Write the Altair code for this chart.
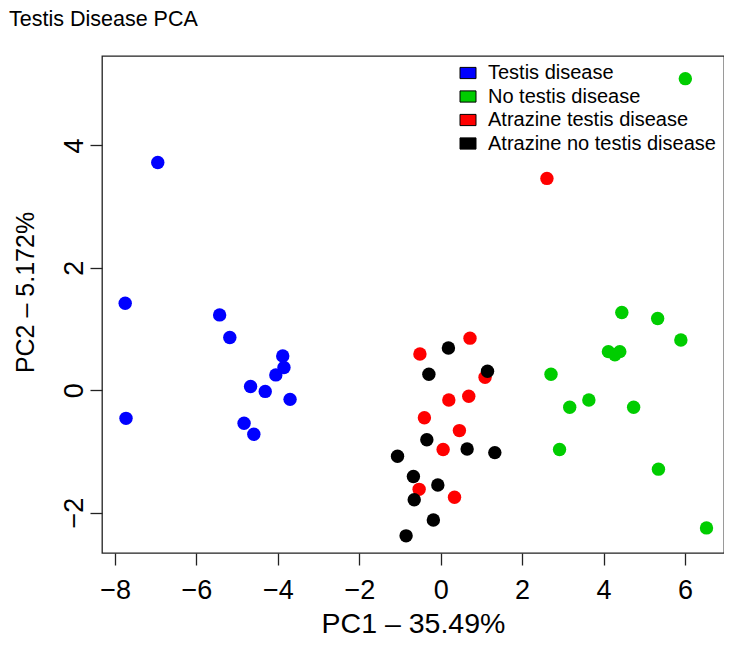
import altair as alt
import pandas as pd

groups = ["Testis disease", "No testis disease", "Atrazine testis disease", "Atrazine no testis disease"]
colors = ["#0000FF", "#00CD00", "#FF0000", "#000000"]

blue_x = [-6.95, -7.75, -5.43, -5.18, -3.88, -3.85, -4.05, -4.67, -4.31, -3.70, -7.73, -4.83, -4.59]
blue_y = [3.72, 1.42, 1.23, 0.86, 0.56, 0.37, 0.25, 0.06, -0.02, -0.15, -0.46, -0.54, -0.72]

green_x = [6.01, 4.45, 5.33, 5.90, 4.12, 4.28, 4.40, 2.71, 3.64, 3.17, 4.74, 2.92, 5.35, 6.53]
green_y = [5.09, 1.27, 1.17, 0.82, 0.63, 0.58, 0.63, 0.26, -0.16, -0.28, -0.28, -0.97, -1.29, -2.25]

red_x = [2.61, -0.51, 0.72, 1.09, 0.20, 0.69, -0.40, 0.46, 0.06, -0.53, 0.34]
red_y = [3.46, 0.59, 0.85, 0.21, -0.16, -0.10, -0.45, -0.66, -0.97, -1.62, -1.75]

black_x = [0.19, -0.29, 1.15, -0.34, 0.65, 1.33, -1.06, -0.67, -0.07, -0.65, -0.18, -0.85]
black_y = [0.69, 0.26, 0.31, -0.81, -0.96, -1.02, -1.08, -1.41, -1.55, -1.79, -2.12, -2.38]

x_ticks = [-8, -6, -4, -2, 0, 2, 4, 6]
y_ticks = [-2, 0, 2, 4]
chart_title = "Testis Disease PCA"

rows = []
for g, xs, ys in zip(groups, [blue_x, green_x, red_x, black_x], [blue_y, green_y, red_y, black_y]):
    for a, b in zip(xs, ys):
        rows.append({"PC1": a, "PC2": b, "group": g})
df = pd.DataFrame(rows)
df["ord"] = range(len(df))

FONT = "Liberation Sans"

points = alt.Chart(df).mark_point(filled=True, size=180, opacity=1, strokeWidth=0).encode(
    x=alt.X("PC1:Q", scale=alt.Scale(domain=[-8.32, 6.96], nice=False, zero=False),
            axis=alt.Axis(values=x_ticks, title="PC1 – 35.49%", titleY=79, titleBaseline="alphabetic",
                          labelPadding=12, titleFontSize=28.5)),
    y=alt.Y("PC2:Q", scale=alt.Scale(domain=[-2.66, 5.46], nice=False, zero=False),
            axis=alt.Axis(values=y_ticks, title="PC2 – 5.172%", labelAngle=270, labelAlign="center",
                          labelBaseline="alphabetic", labelPadding=8, titleAngle=270, titleAlign="center",
                          titleBaseline="alphabetic", titleX=-69, titleY=236, titleFontSize=25)),
    color=alt.Color("group:N", scale=alt.Scale(domain=groups, range=colors),
                    legend=alt.Legend(title=None, orient="none", legendX=356, legendY=7,
                                      symbolType="M-1,-0.7H1V0.7H-1Z", symbolSize=256,
                                      symbolStrokeColor="#000000", symbolStrokeWidth=1,
                                      labelFontSize=20, labelFont=FONT, labelColor="#000000",
                                      labelOffset=10, rowPadding=3.5, padding=0, labelLimit=500)),
    order=alt.Order("ord:Q"),
)

title_text = alt.Chart(pd.DataFrame({"t": [chart_title]})).mark_text(
    align="left", baseline="alphabetic", font=FONT, fontSize=21.5, color="#000000"
).encode(text="t:N", x=alt.value(-93), y=alt.value(-30))

chart = alt.layer(points, title_text).properties(
    width=622, height=497,
    autosize=alt.AutoSizeParams(type="none"),
    padding={"left": 94, "top": 48, "right": 0, "bottom": 85},
).configure_view(
    stroke="#222222", strokeWidth=1.3
).configure_axis(
    domain=False, grid=False, ticks=True, tickSize=12, tickColor="#222222", tickWidth=1.3,
    labelFont=FONT, labelFontSize=27, labelColor="#000000",
    titleFont=FONT, titleFontSize=27, titleFontWeight="normal", titleColor="#000000",
)

chart.save("out.html", embed_options={"renderer": "svg", "actions": False})
